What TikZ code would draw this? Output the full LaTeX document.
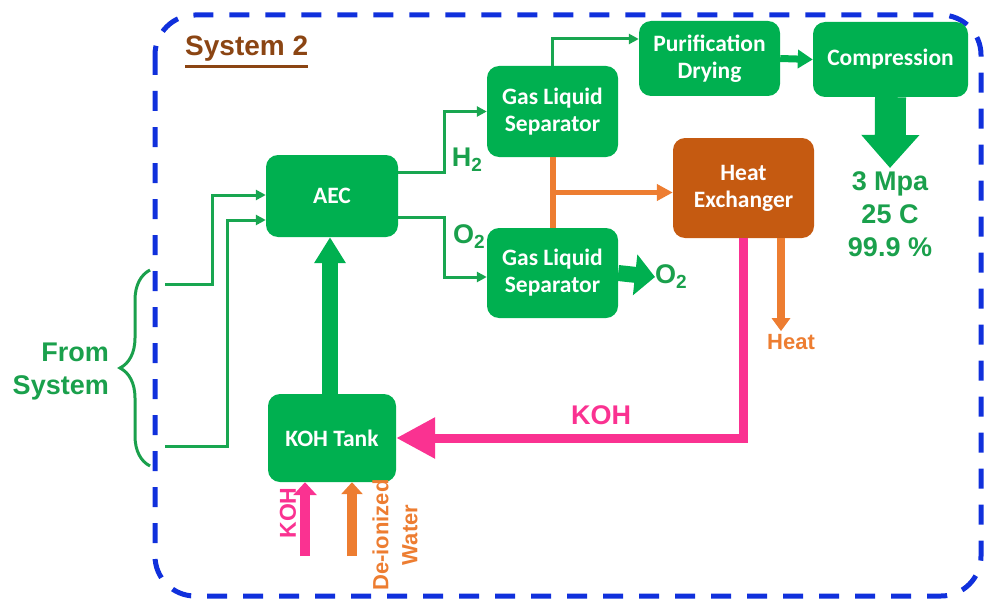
\documentclass[tikz,border=0pt]{standalone}
\usepackage{fontspec}
\setmainfont{Liberation Sans}
\newfontfamily\calib{Carlito}
\usetikzlibrary{arrows.meta,calc,decorations.pathreplacing}
\definecolor{boxgreen}{RGB}{0,176,80}
\definecolor{lgreen}{RGB}{24,166,80}
\definecolor{tgreen}{RGB}{26,160,76}
\definecolor{hefill}{RGB}{197,90,17}
\definecolor{orng}{RGB}{237,125,49}
\definecolor{pnk}{RGB}{250,50,145}
\definecolor{blu}{RGB}{16,48,220}
\definecolor{brwn}{RGB}{139,69,19}
\newcommand{\lowtwo}{\raisebox{-0.35ex}{\fontsize{19}{19}\selectfont 2}}
\tikzset{
  gbox/.style={draw=none, fill=boxgreen, rounded corners=12pt, text=white,
    font=\calib\bfseries\fontsize{23.5}{27}\selectfont, align=center, inner sep=0pt},
  thin/.style={draw=lgreen, line width=3pt, -{Triangle[length=10pt,width=10pt]}},
  lbl/.style={font=\bfseries\fontsize{27}{33}\selectfont, inner sep=0pt}
}
\begin{document}
\begin{tikzpicture}[x=1pt,y=-1pt]
\useasboundingbox (0,0) rectangle (984,599);
% system boundary
\draw[blu, line width=5pt, dash pattern=on 20pt off 16pt, rounded corners=40pt]
  (155,15) rectangle (981,596);
\node[anchor=south west, inner sep=0pt, text=brwn, font=\bfseries\fontsize{28}{28}\selectfont] (title) at (185,62) {System 2};
\draw[brwn, line width=3pt] ([yshift=-4.5pt]title.south west) -- ([yshift=-4.5pt]title.south east);

% boxes
\node[gbox, minimum width=132pt, minimum height=82pt] (aec) at (332,196) {AEC};
\node[gbox, minimum width=131pt, minimum height=91pt] (gls1) at (552.5,111.5) {Gas Liquid\\Separator};
\node[gbox, minimum width=131pt, minimum height=90pt] (gls2) at (552.5,273) {Gas Liquid\\Separator};
\node[gbox, minimum width=141pt, minimum height=75pt] (pur) at (709.5,58.5) {Purification\\Drying};
\node[gbox, minimum width=155pt, minimum height=75pt] (comp) at (890.5,59.5) {Compression};
\node[gbox, fill=hefill, minimum width=141pt, minimum height=100pt] (he) at (743.5,188) {Heat\\Exchanger};
\node[gbox, minimum width=128pt, minimum height=88pt] (tank) at (332,438) {KOH Tank};

% labels
\node[lbl, text=tgreen, align=center, anchor=north] (spec) at (890,171) {3 Mpa\\25 C\\99.9 \%};
\node[lbl, text=tgreen] (h2) at (467,160) {H\lowtwo};
\node[lbl, text=tgreen] (o2a) at (469,237) {O\lowtwo};
\node[lbl, text=tgreen, anchor=west] (o2b) at (655,277) {O\lowtwo};
\node[lbl, text=orng, font=\bfseries\fontsize{22}{22}\selectfont] (heat) at (791,342) {Heat};
\node[lbl, text=pnk] (kohl) at (601,415) {KOH};
\node[lbl, text=tgreen, align=right, anchor=east] (from) at (109,372) {From\\System};
\node[lbl, text=pnk, rotate=90, font=\bfseries\fontsize{23}{23}\selectfont] (kohv) at (288,513) {KOH};
\node[lbl, text=orng, rotate=90, align=center, font=\bfseries\fontsize{22}{29}\selectfont] (dw) at (395,535) {De-ionized\\Water};

% brace
\draw[tgreen, line width=3pt, decorate, decoration={brace, amplitude=30pt}] (150,466) -- (150,270);

% inputs
\coordinate (in1) at (165,284);
\coordinate (in2) at (165,446);
\draw[thin] (in1) -- (212,284) |- ([yshift=1pt]aec.west);
\draw[thin] (in2) -- (227,446) |- ([yshift=-24pt]aec.west);

% AEC outputs
\draw[thin] ([yshift=24pt]aec.east) -- ++(46,0) |- (gls1.west);
\draw[thin] ([yshift=-21pt]aec.east) -- ++(46,0) |- ([yshift=-4pt]gls2.west);

% GLS1 -> purification
\draw[thin] (gls1.north) |- ([yshift=19.5pt]pur.west);
% purification -> compression
\draw[boxgreen, line width=7pt, -{Triangle[length=15pt,width=18pt]}] (pur.east) -- (comp.west);
% compression -> spec
\draw[boxgreen, line width=31pt, -{Triangle[length=33pt,width=56pt]}] (comp.south) -- ([yshift=3pt]spec.north);
% GLS2 -> O2
\draw[boxgreen, line width=16pt, -{Triangle[length=20pt,width=40pt]}] (gls2.east) -- (o2b.west);

% orange separators -> heat exchanger
\draw[orng, line width=6pt] (gls1.south) -- (gls2.north);
\coordinate (br) at ($(gls1.south)!0.5!(gls2.north)$);
\draw[orng, line width=5pt, -{Triangle[length=16pt,width=16pt]}] (br) -- (br -| he.west);
% heat out
\draw[orng, line width=8pt, -{Triangle[length=13pt,width=18pt]}] ([xshift=37.5pt]he.south) -- ([xshift=-10pt,yshift=3pt]heat.north);

% KOH recycle
\draw[pnk, line width=9pt, -{Triangle[length=39pt,width=39pt]}] (he.south) -- (he.south |- tank.east) -- (tank.east);

% tank -> AEC
\draw[boxgreen, line width=16pt, -{Triangle[length=26pt,width=30pt]}] ([xshift=-2pt]tank.north) -- ([xshift=-2pt]aec.south);

% bottom feeds
\coordinate (kohin) at (305,556);
\coordinate (dwin) at (352,556);
\draw[pnk, line width=10pt, -{Triangle[length=13pt,width=23pt]}] (kohin) -- (kohin |- tank.south);
\draw[orng, line width=10pt, -{Triangle[length=12pt,width=21pt]}] (dwin) -- (dwin |- tank.south);
\end{tikzpicture}
\end{document}
